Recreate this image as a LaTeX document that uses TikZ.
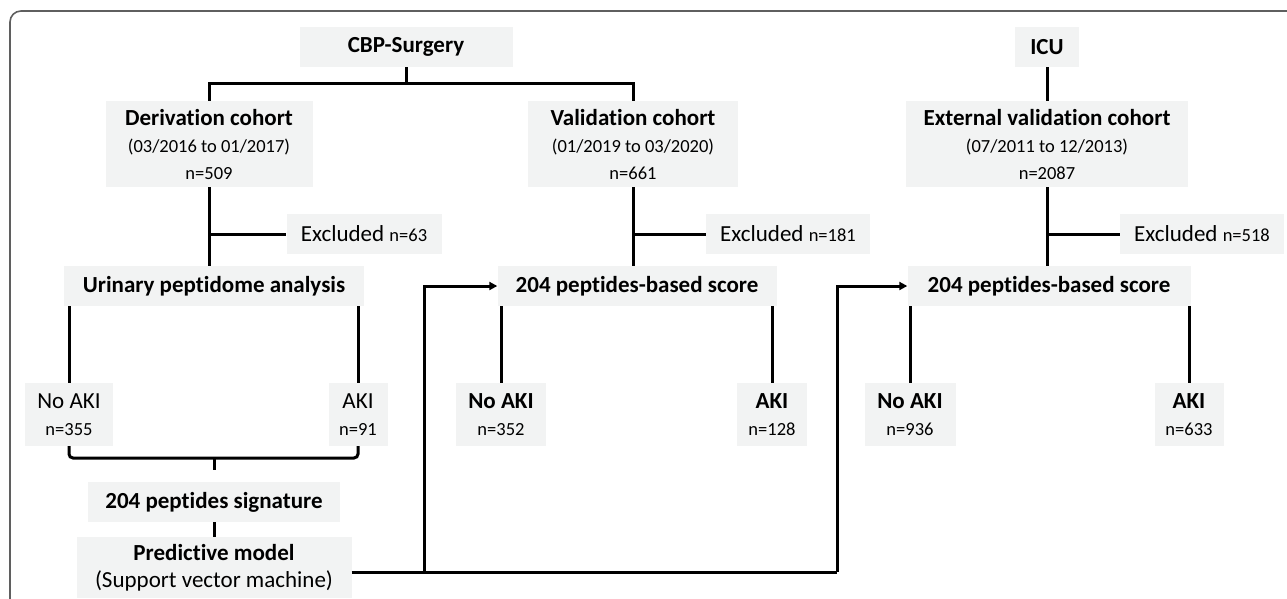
\documentclass[tikz,border=0pt]{standalone}
\usepackage{fontspec}
\setmainfont[Ligatures=NoCommon]{Carlito}
\usetikzlibrary{arrows.meta}
\definecolor{boxgray}{RGB}{242,243,243}
\definecolor{framegray}{RGB}{95,95,95}
\newcommand{\bigf}{\fontsize{23}{27}\selectfont}
\newcommand{\smf}{\fontsize{18.5}{24}\selectfont}

\begin{document}
\begin{tikzpicture}[
x=1pt, y=-1pt,
grbox/.style={fill=boxgray,draw=none,inner sep=0pt,align=center,font=\bigf},
link/.style={line width=3pt},
feed/.style={line width=3pt,-{Triangle[length=8pt,width=8pt]}}
]
    \useasboundingbox (0,0) rectangle (1287,598);

    % Frame
    \draw[framegray, line width=1.6pt, rounded corners=11pt] (10,600) -- (10,11) -- (1290,11);

    % Cohorts
    \node[grbox, minimum width=213pt, minimum height=40pt] (cbp) at (406,47) {\textbf{CBP-Surgery}};
    \node[grbox, minimum width=64pt, minimum height=40pt] (icu) at (1047,47) {\textbf{ICU}};
    \node[grbox, minimum width=207pt, minimum height=86pt] (deriv) at (209,144)
        {\textbf{Derivation cohort}\\ \smf (03/2016 to 01/2017)\\ \smf n=509};
    \node[grbox, minimum width=210pt, minimum height=86pt] (valid) at (633,144)
        {\textbf{Validation cohort}\\ \smf (01/2019 to 03/2020)\\ \smf n=661};
    \node[grbox, minimum width=282pt, minimum height=86pt] (ext) at (1047,144)
        {\textbf{External validation cohort}\\ \smf (07/2011 to 12/2013)\\ \smf n=2087};

    % Excluded
    \node[grbox, minimum width=155pt, minimum height=40pt] (exc1) at (364,234) {Excluded {\smf n=63}};
    \node[grbox, minimum width=164pt, minimum height=40pt] (exc2) at (788,234) {Excluded {\smf n=181}};
    \node[grbox, minimum width=164pt, minimum height=40pt] (exc3) at (1202,234) {Excluded {\smf n=518}};

    % Analysis and scores
    \node[grbox, minimum width=300pt, minimum height=40pt] (urin) at (214,286) {\textbf{Urinary peptidome analysis}};
    \node[grbox, minimum width=279pt, minimum height=40pt] (score1) at (637,286) {\textbf{204 peptides-based score}};
    \node[grbox, minimum width=283pt, minimum height=40pt] (score2) at (1049,286) {\textbf{204 peptides-based score}};

    % Outcomes
    \node[grbox, minimum width=88pt, minimum height=63pt] (noaki1) at (69,414.5) {No AKI\\ \smf n=355};
    \node[grbox, minimum width=59pt, minimum height=63pt] (aki1) at (358,414.5) {AKI\\ \smf n=91};
    \node[grbox, minimum width=90pt, minimum height=63pt] (noaki2) at (501,414.5) {\textbf{No AKI}\\ \smf n=352};
    \node[grbox, minimum width=70pt, minimum height=63pt] (aki2) at (772,414.5) {\textbf{AKI}\\ \smf n=128};
    \node[grbox, minimum width=91pt, minimum height=63pt] (noaki3) at (910,414.5) {\textbf{No AKI}\\ \smf n=936};
    \node[grbox, minimum width=69pt, minimum height=63pt] (aki3) at (1189,414.5) {\textbf{AKI}\\ \smf n=633};

    % Signature and model
    \node[grbox, minimum width=252pt, minimum height=40pt] (sig) at (214,502) {\textbf{204 peptides signature}};
    \node[grbox, minimum width=275pt, minimum height=61pt] (pred) at (214,567.5)
        {\textbf{Predictive model}\\ (Support vector machine)};

    \coordinate (cbpjoin) at (406,83);
    \coordinate (brk) at (214,458);
    \coordinate (brktip) at (214,470);
    \coordinate (turn1) at (424,572);
    \coordinate (turn2) at (837,572);

    % Connectors
    \draw[link] (cbp.south) -- (cbpjoin);
    \draw[link] (deriv.north) -- (deriv.north |- cbpjoin) -- (valid.north |- cbpjoin) -- (valid.north);
    \draw[link] (icu.south) -- (ext.north);
    \draw[link] (deriv.south) -- (deriv.south |- urin.north);
    \draw[link] (valid.south) -- (valid.south |- score1.north);
    \draw[link] (ext.south) -- (ext.south |- score2.north);
    \draw[link] (deriv.south |- exc1.west) -- (exc1.west);
    \draw[link] (valid.south |- exc2.west) -- (exc2.west);
    \draw[link] (ext.south |- exc3.west) -- (exc3.west);

    \draw[link] (noaki1.north) -- (noaki1.north |- urin.south);
    \draw[link] (aki1.north) -- (aki1.north |- urin.south);
    \draw[link] (noaki2.north) -- (noaki2.north |- score1.south);
    \draw[link] (aki2.north) -- (aki2.north |- score1.south);
    \draw[link] (noaki3.north) -- (noaki3.north |- score2.south);
    \draw[link] (aki3.north) -- (aki3.north |- score2.south);

    \draw[link, rounded corners=4pt] (noaki1.south) |- (brk) -| (aki1.south);
    \draw[link] (brk) -- (brktip);
    \draw[link] (sig.south) -- (pred.north);

    \draw[link] (pred.east |- turn1) -- (turn2);
    \draw[feed] (turn1) |- (score1.west);
    \draw[feed] (turn2) |- (score2.west);

\end{tikzpicture}
\end{document}
